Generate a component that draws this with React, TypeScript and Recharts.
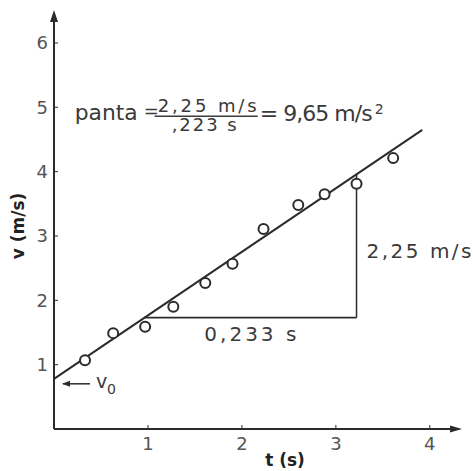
import {
  ComposedChart,
  Line,
  Scatter,
  XAxis,
  YAxis,
  ReferenceLine,
  ReferenceDot,
} from "recharts";

// measured points (t in s, v in m/s)
const measT = [0.33, 0.63, 0.97, 1.27, 1.61, 1.9, 2.23, 2.6, 2.88, 3.22, 3.61];
const measV = [1.07, 1.49, 1.59, 1.9, 2.27, 2.57, 3.11, 3.48, 3.65, 3.81, 4.21];

// fitted straight line
const fitT = [0, 3.92];
const fitV = [0.78, 4.65];

// slope triangle
const runFrom = 0.96;
const runTo = 3.22;
const runV = 1.73;
const riseTo = 3.97;

const xTicks = [1, 2, 3, 4];
const yTicks = [1, 2, 3, 4, 5, 6];
const xMax = 4.3;
const yMax = 6.45;

const INK = "#2b2b2b";
const TEXT = "#3a3a3a";
const FONT = "'DejaVu Sans', 'Liberation Sans', sans-serif";

const points = measT.map((t, i) => ({ t, v: measV[i] }));
const fit = fitT.map((t, i) => ({ t, v: fitV[i] }));

const Ring = (p: any) => (
  <circle cx={p.cx} cy={p.cy} r={5} fill="#fff" stroke={INK} strokeWidth={2} />
);

const Formula = (p: any) => {
  const { cx, cy } = p;
  return (
    <g fontFamily={FONT} fill={TEXT}>
      <text x={cx} y={cy} fontSize={22} textLength={63} lengthAdjust="spacingAndGlyphs">
        panta
      </text>
      <text x={cx + 69} y={cy - 3} fontSize={18}>=</text>
      <text x={cx + 83} y={cy - 8} fontSize={18} textLength={99} lengthAdjust="spacing">
        2,25 m/s
      </text>
      <line x1={cx + 80} x2={cx + 183} y1={cy - 4} y2={cy - 4} stroke={TEXT} strokeWidth={1.5} />
      <text x={cx + 97} y={cy + 11} fontSize={18} textLength={65} lengthAdjust="spacing">
        ,223 s
      </text>
      <text x={cx + 185} y={cy + 1} fontSize={22} textLength={113} lengthAdjust="spacing">
        = 9,65 m/s
      </text>
      <text x={cx + 300} y={cy - 6} fontSize={14}>2</text>
    </g>
  );
};

const RunLabel = (p: any) => (
  <text
    x={p.cx}
    y={p.cy + 23}
    textAnchor="middle"
    fontFamily={FONT}
    fontSize={20}
    fill={TEXT}
    textLength={92}
    lengthAdjust="spacing"
  >
    0,233 s
  </text>
);

const RiseLabel = (p: any) => (
  <text
    x={p.cx + 10}
    y={p.cy + 12}
    fontFamily={FONT}
    fontSize={20}
    fill={TEXT}
    textLength={105}
    lengthAdjust="spacing"
  >
    2,25 m/s
  </text>
);

const V0Label = (p: any) => {
  const { cx, cy } = p;
  const ay = cy + 5;
  return (
    <g fontFamily={FONT} fill={TEXT}>
      <line x1={cx + 9} x2={cx + 36} y1={ay} y2={ay} stroke={INK} strokeWidth={1.5} />
      <path d={`M${cx + 8},${ay} l8,-3 l0,6 z`} fill={INK} />
      <text x={cx + 42} y={cy + 9} fontSize={19}>v</text>
      <text x={cx + 53} y={cy + 15} fontSize={14}>0</text>
    </g>
  );
};

const ArrowUp = (p: any) => (
  <path d={`M${p.cx},${p.cy - 4} l-4,12 l8,0 z`} fill={INK} />
);

const ArrowRight = (p: any) => (
  <path d={`M${p.cx + 4},${p.cy} l-12,-3.5 l0,7 z`} fill={INK} />
);

const YTitle = (p: any) => {
  const vb = p.viewBox;
  const x = vb.x + 4;
  const y = 226;
  return (
    <text
      x={x}
      y={y}
      transform={`rotate(-90 ${x} ${y})`}
      textAnchor="middle"
      dominantBaseline="central"
      fontFamily={FONT}
      fontWeight="bold"
      fontSize={17}
      fill="#222"
    >
      v (m/s)
    </text>
  );
};

const XTitle = (p: any) => {
  const vb = p.viewBox;
  return (
    <text
      x={285}
      y={vb.y + 37}
      textAnchor="middle"
      fontFamily={FONT}
      fontWeight="bold"
      fontSize={17}
      fill="#222"
    >
      t (s)
    </text>
  );
};

export default function App() {
  return (
    <div style={{ position: "absolute", left: 0, top: 0, background: "#fff" }}>
      <ComposedChart
        width={473}
        height={471}
        margin={{ top: 14, right: 15, bottom: 12, left: 14 }}
      >
        <XAxis
          type="number"
          dataKey="t"
          domain={[0, xMax]}
          ticks={xTicks}
          height={30}
          tickSize={-4}
          tickMargin={12}
          axisLine={{ stroke: INK, strokeWidth: 2 }}
          tickLine={{ stroke: INK }}
          tick={{ fontSize: 18, fill: "#555", fontFamily: FONT }}
          label={<XTitle />}
        />
        <YAxis
          type="number"
          dataKey="v"
          domain={[0, yMax]}
          ticks={yTicks}
          width={40}
          tickSize={-4}
          tickMargin={10}
          axisLine={{ stroke: INK, strokeWidth: 2 }}
          tickLine={{ stroke: INK }}
          tick={{ fontSize: 18, fill: "#555", fontFamily: FONT }}
          label={<YTitle />}
        />
        <ReferenceLine
          segment={[
            { x: runFrom, y: runV },
            { x: runTo, y: runV },
          ]}
          stroke={INK}
          strokeWidth={1.8}
        />
        <ReferenceLine
          segment={[
            { x: runTo, y: runV },
            { x: runTo, y: riseTo },
          ]}
          stroke={INK}
          strokeWidth={1.5}
        />
        <Line
          data={fit}
          dataKey="v"
          stroke={INK}
          strokeWidth={2}
          dot={false}
          isAnimationActive={false}
        />
        <Scatter data={points} dataKey="v" shape={Ring} isAnimationActive={false} />
        <ReferenceDot x={0} y={yMax} r={1} shape={ArrowUp} />
        <ReferenceDot x={xMax} y={0} r={1} shape={ArrowRight} />
        <ReferenceDot x={0.22} y={4.8} r={1} shape={Formula} />
        <ReferenceDot x={(runFrom + runTo) / 2} y={runV} r={1} shape={RunLabel} />
        <ReferenceDot x={runTo} y={(runV + riseTo) / 2} r={1} shape={RiseLabel} />
        <ReferenceDot x={0} y={fitV[0]} r={1} shape={V0Label} />
      </ComposedChart>
    </div>
  );
}
